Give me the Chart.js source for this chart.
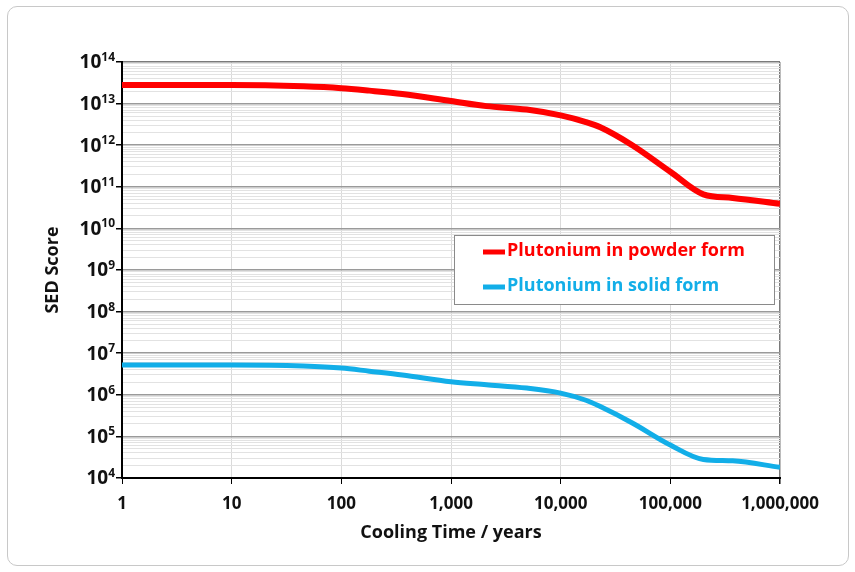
<!DOCTYPE html>
<html>
<head>
<meta charset="utf-8">
<script src="https://cdn.jsdelivr.net/npm/chart.js@4.4.1/dist/chart.umd.min.js"></script>
<style>
  html, body { margin: 0; padding: 0; background: #fff; }
  #wrap { position: relative; width: 855px; height: 572px; }
  #frame { position: absolute; left: 7px; top: 6px; width: 840px; height: 558px;
           border: 1px solid #c8c8c8; border-radius: 10px; }
  #sedChart { position: absolute; left: 0; top: 0; }
</style>
</head>
<body>
<div id="wrap">
  <div id="frame"></div>
  <canvas id="sedChart" width="855" height="572"></canvas>
</div>
<script>
// Cooling time (years) sampled along the curves
const years = [1, 10, 45, 100, 180, 360, 1000, 2100, 4900, 10000, 17000, 23000, 45000, 100000, 200000, 370000, 1000000];

// SED score, plutonium in powder form
const powderScores = [2.8e13, 2.8e13, 2.6e13, 2.35e13, 2.05e13, 1.7e13, 1.15e13, 8.7e12, 7.2e12, 5.2e12, 3.6e12, 2.7e12, 1.0e12, 2.3e11, 6.6e10, 5.4e10, 3.9e10];

// SED score, plutonium in solid form
const solidScores = [5.2e6, 5.2e6, 4.9e6, 4.4e6, 3.7e6, 3.0e6, 2.05e6, 1.75e6, 1.45e6, 1.1e6, 7.4e5, 5.2e5, 2.1e5, 6.2e4, 2.8e4, 2.6e4, 1.8e4];

const seriesNames = ['Plutonium in powder form', 'Plutonium in solid form'];
const seriesColors = ['#ff0000', '#12aee8'];

// Axis ticks
const xTicks = [1, 10, 100, 1000, 10000, 100000, 1000000];
const xTickLabels = ['1', '10', '100', '1,000', '10,000', '100,000', '1,000,000'];
const yTickExponents = [4, 5, 6, 7, 8, 9, 10, 11, 12, 13, 14];

const FONT = '"Open Sans", Lato, sans-serif';

function isDecade(v) {
    const l = Math.log10(v);
    return Math.abs(l - Math.round(l)) < 1e-9;
}

function toPoints(values) {
    return years.map((x, i) => ({ x: x, y: values[i] }));
}

// y labels as 10 with a raised exponent
const powerLabels = {
    id: 'powerLabels',
    afterDraw(chart) {
        const ctx = chart.ctx;
        const yScale = chart.scales.y;
        const right = 115;
        ctx.save();
        ctx.fillStyle = '#111';
        yTickExponents.forEach(e => {
            const y = yScale.getPixelForValue(Math.pow(10, e));
            const expText = String(e);
            ctx.font = 'bold 12px ' + FONT;
            const expW = ctx.measureText(expText).width;
            ctx.textAlign = 'left';
            ctx.textBaseline = 'alphabetic';
            ctx.fillText(expText, right - expW, y - 1);
            ctx.font = 'bold 19px ' + FONT;
            ctx.textAlign = 'right';
            ctx.textBaseline = 'middle';
            ctx.fillText('10', right - expW, y + 1);
        });
        ctx.restore();
    }
};

// legend box inside the plot
const boxLegend = {
    id: 'boxLegend',
    afterDraw(chart) {
        const ctx = chart.ctx;
        const bx = 454, by = 235, bw = 320, bh = 69;
        ctx.save();
        ctx.fillStyle = '#fff';
        ctx.fillRect(bx, by, bw, bh);
        ctx.strokeStyle = '#8a8a8a';
        ctx.lineWidth = 1;
        ctx.strokeRect(bx + 0.5, by + 0.5, bw, bh);
        ctx.font = 'bold 18px ' + FONT;
        ctx.textAlign = 'left';
        ctx.textBaseline = 'middle';
        chart.data.datasets.forEach((ds, i) => {
            const y = by + 17 + i * 35;
            ctx.strokeStyle = ds.borderColor;
            ctx.lineWidth = 5;
            ctx.beginPath();
            ctx.moveTo(483, y);
            ctx.lineTo(505, y);
            ctx.stroke();
            ctx.fillStyle = ds.borderColor;
            ctx.fillText(ds.label, 507, y - 1);
        });
        ctx.restore();
    }
};

new Chart(document.getElementById('sedChart'), {
    type: 'line',
    data: {
        datasets: [
            {
                label: seriesNames[0],
                data: toPoints(powderScores),
                borderColor: seriesColors[0],
                borderWidth: 6,
                pointRadius: 0,
                cubicInterpolationMode: 'monotone'
            },
            {
                label: seriesNames[1],
                data: toPoints(solidScores),
                borderColor: seriesColors[1],
                borderWidth: 5,
                pointRadius: 0,
                cubicInterpolationMode: 'monotone'
            }
        ]
    },
    options: {
        responsive: false,
        animation: false,
        layout: { padding: { left: 0, top: 62, right: 75, bottom: 0 } },
        scales: {
            x: {
                type: 'logarithmic',
                min: 1,
                max: 1000000,
                afterBuildTicks: scale => { scale.ticks = xTicks.map(v => ({ value: v })); },
                afterFit: scale => { scale.height = 94; },
                grid: {
                    color: ctx => ctx.tick && ctx.tick.value === 1000000 ? '#7a7a7a' : '#dadada',
                    lineWidth: ctx => ctx.tick && ctx.tick.value === 1000000 ? 1.5 : 1,
                    tickLength: 6,
                    tickColor: '#000'
                },
                border: { color: '#000', width: 2 },
                ticks: {
                    autoSkip: false,
                    maxRotation: 0,
                    padding: 10,
                    color: '#111',
                    font: { family: FONT, size: 17, weight: 'bold' },
                    callback: (value, index) => xTickLabels[index]
                },
                title: {
                    display: true,
                    text: 'Cooling Time / years',
                    color: '#111',
                    font: { family: FONT, size: 18, weight: 'bold' },
                    padding: { top: 0, bottom: 28 }
                }
            },
            y: {
                type: 'logarithmic',
                min: 1e4,
                max: 1e14,
                afterBuildTicks: scale => {
                    const t = [];
                    yTickExponents.forEach(e => {
                        if (e === yTickExponents[yTickExponents.length - 1]) {
                            t.push({ value: Math.pow(10, e) });
                            return;
                        }
                        for (let k = 1; k <= 9; k++) t.push({ value: k * Math.pow(10, e) });
                    });
                    scale.ticks = t;
                },
                afterFit: scale => { scale.width = 122; },
                grid: {
                    color: ctx => {
                        if (!ctx.tick) return '#e2e2e2';
                        if (ctx.tick.value === 1e14) return '#7a7a7a';
                        return isDecade(ctx.tick.value) ? '#9a9a9a' : '#e2e2e2';
                    },
                    lineWidth: ctx => ctx.tick && isDecade(ctx.tick.value) ? 1.5 : 1,
                    tickLength: 6,
                    tickColor: ctx => ctx.tick && isDecade(ctx.tick.value) ? '#000' : 'rgba(0,0,0,0)'
                },
                border: { color: '#000', width: 2 },
                ticks: { display: false, autoSkip: false },
                title: {
                    display: true,
                    text: 'SED Score',
                    color: '#111',
                    font: { family: FONT, size: 18, weight: 'bold' },
                    padding: { top: 42, bottom: 0 }
                }
            }
        },
        plugins: {
            legend: { display: false },
            tooltip: { enabled: false }
        }
    },
    plugins: [powerLabels, boxLegend]
});
</script>
</body>
</html>
